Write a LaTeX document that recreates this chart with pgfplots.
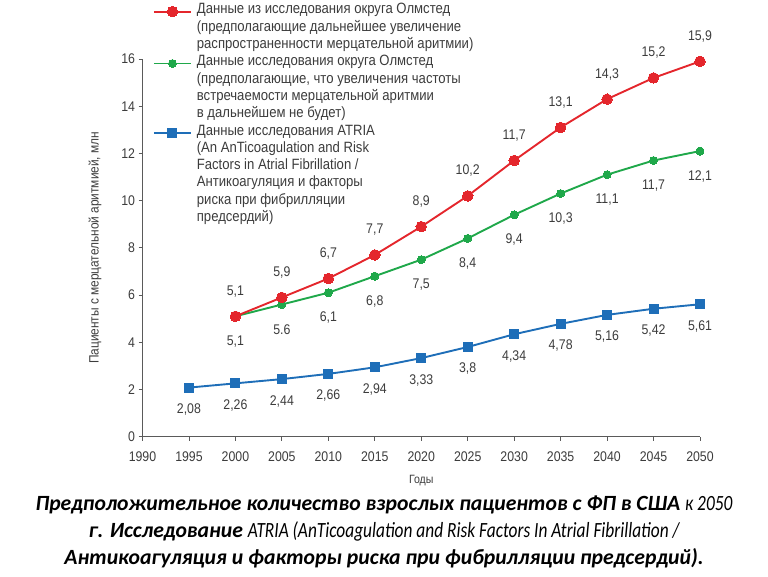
\documentclass[border=0pt]{standalone}
\usepackage{fontspec}
\setmainfont{Liberation Sans}
\newfontfamily\narrow[FakeStretch=0.88]{Liberation Sans}
\newfontfamily\capfont{Carlito}
\newfontfamily\capnarrow[FakeStretch=0.8]{Carlito}
\usepackage{pgfplots}
\pgfplotsset{compat=1.18}
\definecolor{cred}{HTML}{E4262C}
\definecolor{cgreen}{HTML}{1FA84A}
\definecolor{cblue}{HTML}{1E6EB8}
\definecolor{axisgray}{HTML}{5A5A5A}
\definecolor{labgray}{HTML}{3C3C3C}
\begin{document}
\begin{tikzpicture}[x=1pt,y=1pt]
\path[use as bounding box] (0,0) rectangle (768,576);
\begin{axis}[
  at={(142.5pt,139.3pt)}, anchor=south west, scale only axis,
  width=557.5pt, height=377.7pt,
  xmin=1990, xmax=2050, ymin=0, ymax=16,
  axis x line*=bottom, axis y line*=left,
  axis line style={draw=axisgray, line width=1.1pt},
  xtick={1990,1995,...,2050}, ytick={0,2,...,16},
  tick align=outside, major tick length=4pt,
  tick style={axisgray, line width=0.9pt},
  /pgf/number format/1000 sep={}, /pgf/number format/assume math mode=true,
  ticklabel style={font=\narrow\fontsize{14}{16}\selectfont, text=labgray},
  xticklabel style={yshift=-7pt},
  clip=false,
  xlabel={Годы}, ylabel={Пациенты с мерцательной аритмией, млн},
  xlabel style={at={(axis description cs:0.5,-0.115)}, anchor=center, font=\narrow\fontsize{12}{13}\selectfont, text=labgray},
  ylabel style={at={(axis description cs:-0.0852,0.5)}, anchor=center, font=\narrow\fontsize{13.5}{14}\selectfont, text=labgray},
  point meta=explicit symbolic,
  reverse legend,
  legend cell align=left,
  legend style={at={(axis description cs:0.0188,1.1483)}, anchor=north west, draw=none, fill=none, inner sep=0pt, outer sep=0pt, row sep=0pt,
    nodes={inner sep=0pt, text height=11pt, text depth=6.3pt, font=\narrow\fontsize{14.9}{16}\selectfont, text=labgray}},
  legend image code/.code={\draw[mark repeat=2, mark phase=2] plot coordinates {(0pt,0pt) (18.5pt,0pt) (37pt,0pt)}; \path (42pt,0pt);},
]
\addlegendimage{empty legend}\addlegendentry{предсердий)}
\addlegendimage{empty legend}\addlegendentry{риска при фибрилляции}
\addlegendimage{empty legend}\addlegendentry{Антикоагуляция и факторы}
\addlegendimage{empty legend}\addlegendentry{Factors in Atrial Fibrillation /}
\addlegendimage{empty legend}\addlegendentry{(An AnTicoagulation and Risk}
\addplot[color=cblue, line width=1.9pt, mark=square*, mark size=4.5pt, mark options={fill=cblue, draw=cblue, line width=0pt},
  nodes near coords, every node near coord/.append style={anchor=center, yshift=-22pt, font=\narrow\fontsize{14}{16}\selectfont, text=labgray}]
  table[meta=l] {
x y l
1995 2.08 2,08
2000 2.26 2,26
2005 2.44 2,44
2010 2.66 2,66
2015 2.94 2,94
2020 3.33 3,33
2025 3.80 3,8
2030 4.34 4,34
2035 4.78 4,78
2040 5.16 5,16
2045 5.42 5,42
2050 5.61 5,61
};
\addlegendentry{Данные исследования ATRIA}
\addlegendimage{empty legend}\addlegendentry{в дальнейшем не будет)}
\addlegendimage{empty legend}\addlegendentry{встречаемости мерцательной аритмии}
\addlegendimage{empty legend}\addlegendentry{(предполагающие, что увеличения частоты}
\addplot[color=cgreen, line width=1.9pt, mark=*, mark size=4pt, mark options={fill=cgreen, draw=cgreen, line width=0pt},
  nodes near coords, every node near coord/.append style={anchor=center, yshift=-25pt, font=\narrow\fontsize{14}{16}\selectfont, text=labgray}]
  table[meta=l] {
x y l
2000 5.1 5,1
2005 5.6 5.6
2010 6.1 6,1
2015 6.8 6,8
2020 7.5 7,5
2025 8.4 8,4
2030 9.4 9,4
2035 10.3 10,3
2040 11.1 11,1
2045 11.7 11,7
2050 12.1 12,1
};
\addlegendentry{Данные исследования округа Олмстед}
\addlegendimage{empty legend}\addlegendentry{распространенности мерцательной аритмии)}
\addlegendimage{empty legend}\addlegendentry{(предполагающие дальнейшее увеличение}
\addplot[color=cred, line width=1.9pt, mark=*, mark size=5.3pt, mark options={fill=cred, draw=cred, line width=0pt},
  nodes near coords, every node near coord/.append style={anchor=center, yshift=25pt, font=\narrow\fontsize{14}{16}\selectfont, text=labgray}]
  table[meta=l] {
x y l
2000 5.1 5,1
2005 5.9 5,9
2010 6.7 6,7
2015 7.7 7,7
2020 8.9 8,9
2025 10.2 10,2
2030 11.7 11,7
2035 13.1 13,1
2040 14.3 14,3
2045 15.2 15,2
2050 15.9 15,9
};
\addlegendentry{Данные из исследования округа Олмстед}
\end{axis}
\node[align=center, font=\capfont\bfseries\itshape\fontsize{21.7}{26.8}\selectfont, text=black] at (384,44)
  {Предположительное количество взрослых пациентов с ФП в США {\capnarrow\mdseries к 2050}\\
   г. Исследование {\capnarrow\mdseries ATRIA (AnTicoagulation and Risk Factors In Atrial Fibrillation /}\\
   Антикоагуляция и факторы риска при фибрилляции предсердий).};
\end{tikzpicture}
\end{document}
